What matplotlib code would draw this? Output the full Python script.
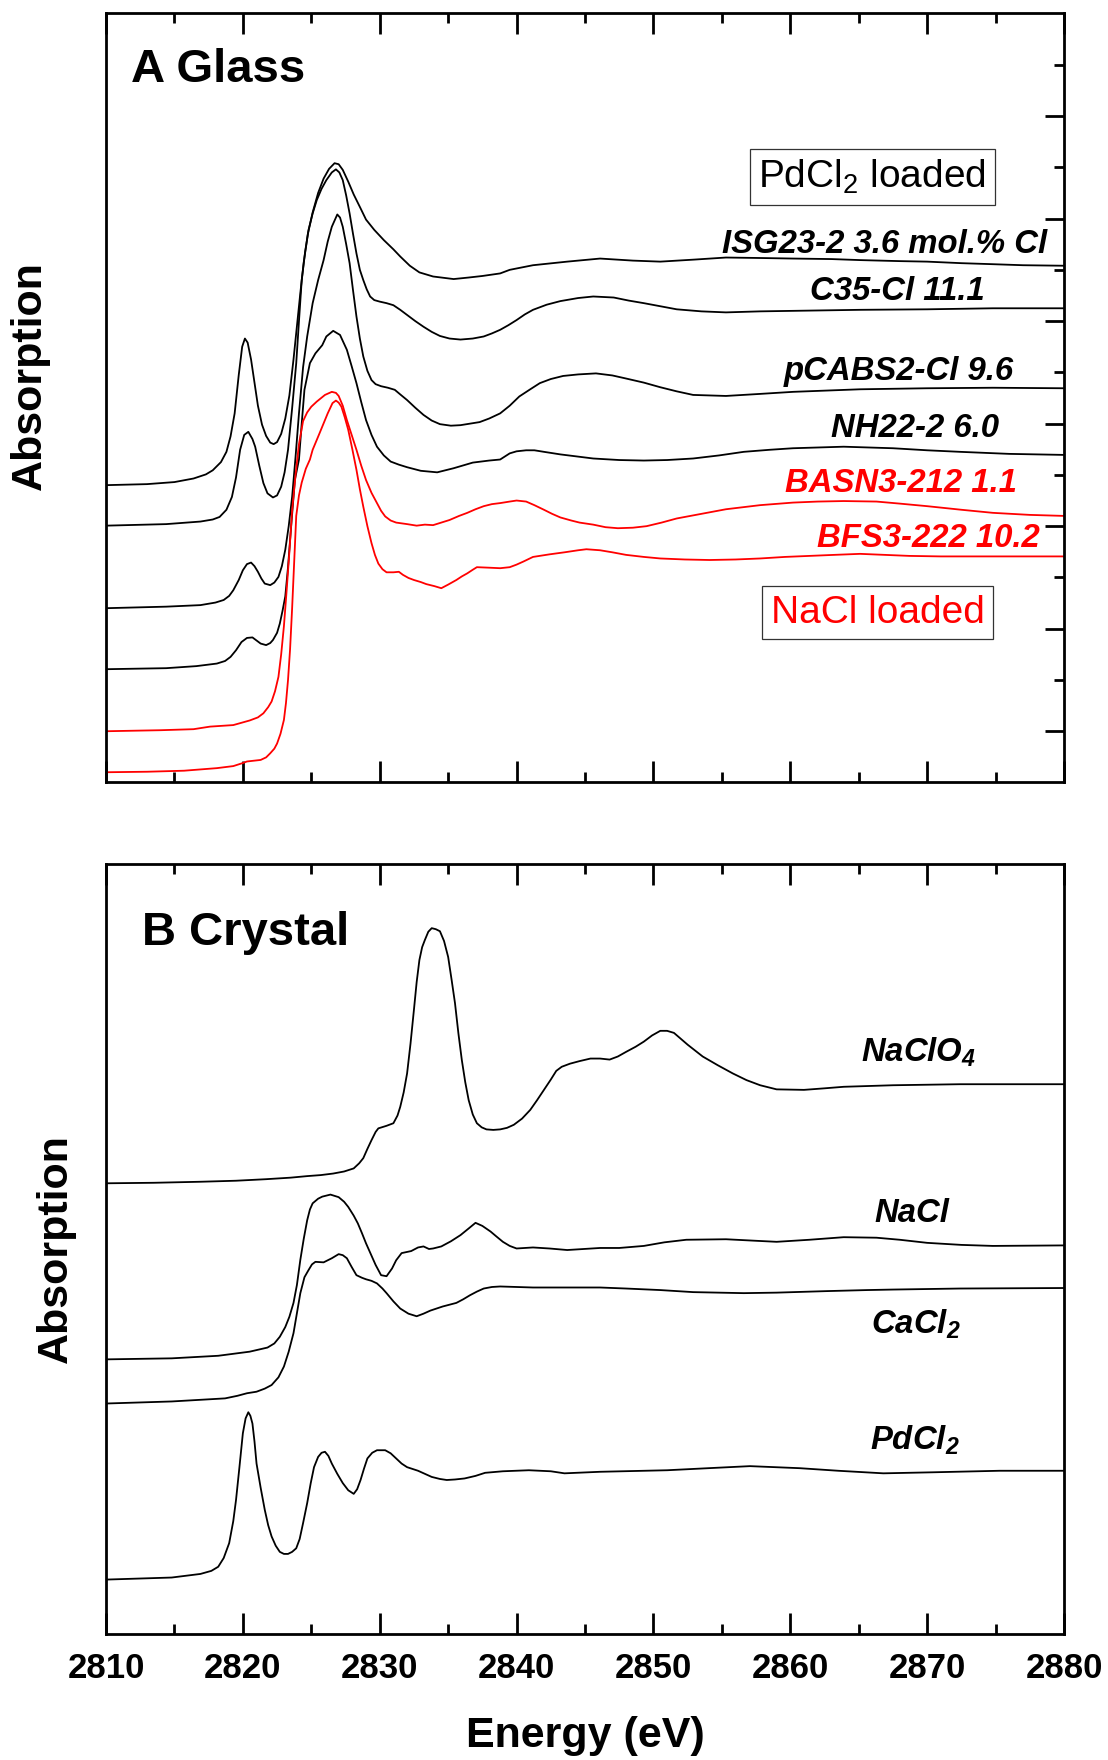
"""Stacked Cl K-edge XANES spectra: glasses (A) and crystalline references (B)."""

import matplotlib
matplotlib.use("Agg")
import matplotlib.pyplot as plt
from matplotlib.ticker import FixedLocator, MultipleLocator

plt.rcParams["font.family"] = "Liberation Sans"
plt.rcParams["mathtext.fontset"] = "custom"
plt.rcParams["mathtext.rm"] = "Liberation Sans"
plt.rcParams["mathtext.it"] = "Liberation Sans:italic"
plt.rcParams["mathtext.bf"] = "Liberation Sans:italic:bold"  # used for bold-italic subscripts

# ---- panel A: glasses (energy in eV, absorption stacked with offsets) ----
isg_e = [2810, 2813, 2815, 2816.4, 2817.3, 2817.8, 2818.4, 2818.8, 2819.1, 2819.4, 2819.7, 2819.95,
         2820.15, 2820.35, 2820.6, 2820.85, 2821.1, 2821.4, 2821.7, 2822.0, 2822.25, 2822.5, 2822.8,
         2823.1, 2823.4, 2823.7, 2823.95, 2824.2, 2824.45, 2824.75, 2825.1, 2825.5, 2825.9, 2826.3,
         2826.7, 2827.0, 2827.3, 2827.7, 2828.1, 2828.6, 2829.0, 2829.6, 2830.3, 2831.0, 2831.5,
         2832.2, 2832.9, 2833.9, 2835.4, 2836.5, 2837.5, 2838.8, 2839.5, 2841.2, 2843.7, 2846.1,
         2848.5, 2850.5, 2853, 2855.3, 2858, 2860.2, 2863, 2865.1, 2868, 2870.0, 2872.5, 2874.8,
         2877, 2880]
isg_a = [5.80, 5.82, 5.86, 5.93, 6.01, 6.09, 6.25, 6.45, 6.75, 7.20, 7.95, 8.50,
         8.66, 8.58, 8.25, 7.80, 7.35, 6.98, 6.76, 6.63, 6.60, 6.64, 6.80,
         7.10, 7.55, 8.25, 8.90, 9.55, 10.15, 10.70, 11.12, 11.50, 11.78, 11.97,
         12.08, 12.06, 11.95, 11.72, 11.47, 11.20, 10.98, 10.78, 10.58, 10.40, 10.26,
         10.08, 9.95, 9.87, 9.82, 9.85, 9.88, 9.93, 10.00, 10.09, 10.16, 10.22,
         10.18, 10.16, 10.20, 10.24, 10.23, 10.22, 10.21, 10.19, 10.17, 10.16, 10.13, 10.11,
         10.09, 10.08]

c35_e = [2810, 2814.4, 2816.9, 2817.8, 2818.3, 2818.8, 2819.2, 2819.5, 2819.8, 2820.1, 2820.4,
         2820.7, 2820.9, 2821.2, 2821.5, 2821.8, 2822.2, 2822.5, 2822.8, 2823.05, 2823.3, 2823.6,
         2823.9, 2824.1, 2824.3, 2824.55, 2824.8, 2825.1, 2825.4, 2825.75, 2826.1, 2826.5, 2826.8,
         2827.05, 2827.3, 2827.55, 2827.8, 2828.05, 2828.3, 2828.55, 2828.8, 2829.05, 2829.3,
         2829.6, 2830.0, 2830.5, 2831.0, 2831.5, 2832.0, 2832.6, 2833.2, 2833.8, 2834.4, 2835.1,
         2835.9, 2836.8, 2837.6, 2838.2, 2838.8, 2839.4, 2840.0, 2840.6, 2841.2, 2842.2, 2843.2,
         2844.5, 2845.6, 2847.1, 2848.2, 2849.3, 2850.5, 2851.7, 2853.5, 2855.3, 2857.8, 2860.2,
         2865.1, 2870.0, 2874.8, 2880]
c35_a = [5.01, 5.04, 5.09, 5.13, 5.18, 5.32, 5.57, 5.95, 6.49, 6.78, 6.84,
         6.70, 6.55, 6.18, 5.84, 5.64, 5.56, 5.60, 5.77, 6.05, 6.49, 7.30,
         8.18, 9.00, 9.80, 10.35, 10.78, 11.10, 11.36, 11.58, 11.75, 11.90, 11.96,
         11.90, 11.75, 11.45, 11.10, 10.70, 10.32, 10.00, 9.80, 9.62, 9.48,
         9.41, 9.38, 9.35, 9.31, 9.22, 9.12, 9.00, 8.89, 8.79, 8.71, 8.66,
         8.64, 8.66, 8.70, 8.76, 8.83, 8.92, 9.02, 9.13, 9.22, 9.32, 9.39,
         9.45, 9.48, 9.46, 9.40, 9.35, 9.29, 9.23, 9.19, 9.17, 9.19, 9.20,
         9.22, 9.23, 9.25, 9.25]

pcabs_e = [2810, 2814.4, 2816.9, 2818.0, 2818.6, 2819.0, 2819.3, 2819.7, 2820.0, 2820.3, 2820.6,
           2820.85, 2821.1, 2821.35, 2821.6, 2822.0, 2822.3, 2822.6, 2822.85, 2823.1, 2823.35,
           2823.6, 2823.85, 2824.1, 2824.4, 2824.7, 2825.1, 2825.5, 2825.9, 2826.2, 2826.5, 2826.9,
           2827.1, 2827.3, 2827.55, 2827.8, 2828.05, 2828.3, 2828.55, 2828.8, 2829.1, 2829.4,
           2829.7, 2830.1, 2830.6, 2831.1, 2831.5, 2832.0, 2832.6, 2833.2, 2833.8, 2834.4, 2835.2,
           2835.9, 2836.6, 2837.3, 2838.0, 2838.8, 2839.5, 2840.2, 2841.0, 2841.7, 2842.5, 2843.4,
           2844.5, 2845.8, 2847.0, 2848.0, 2849.3, 2850.5, 2851.7, 2852.9, 2855.3, 2857.8, 2860.2,
           2865.1, 2870.0, 2874.8, 2880]
pcabs_a = [3.40, 3.43, 3.46, 3.51, 3.56, 3.64, 3.75, 3.95, 4.14, 4.26, 4.29,
           4.22, 4.11, 3.98, 3.88, 3.85, 3.90, 4.01, 4.22, 4.54, 5.00,
           5.57, 6.35, 7.20, 8.10, 8.70, 9.35, 9.80, 10.19, 10.55, 10.84, 11.08,
           11.02, 10.84, 10.50, 10.13, 9.60, 9.09, 8.66, 8.31, 8.03, 7.85,
           7.77, 7.73, 7.70, 7.66, 7.57, 7.46, 7.31, 7.17, 7.06, 6.99, 6.96,
           6.97, 7.00, 7.03, 7.10, 7.20, 7.35, 7.53, 7.67, 7.79, 7.87, 7.93,
           7.96, 7.98, 7.94, 7.88, 7.80, 7.71, 7.63, 7.56, 7.54, 7.58, 7.62,
           7.67, 7.69, 7.70, 7.69]

nh22_e = [2810, 2814.4, 2816.6, 2818.1, 2818.7, 2819.1, 2819.5, 2819.9, 2820.3, 2820.7, 2821.0,
          2821.3, 2821.7, 2822.0, 2822.2, 2822.5, 2822.7, 2822.9, 2823.1, 2823.3, 2823.5, 2823.8,
          2824.1, 2824.3, 2824.5, 2824.9, 2825.3, 2825.8, 2826.1, 2826.6, 2827.1, 2827.6, 2827.95,
          2828.3, 2828.65, 2829.0, 2829.4, 2829.8, 2830.3, 2830.8, 2831.4, 2832.0, 2833.0, 2834.2,
          2835.4, 2836.8, 2838.0, 2838.8, 2839.5, 2840.0, 2840.7, 2841.3, 2842.0, 2843.2, 2845.6,
          2847.5, 2849.3, 2851.0, 2852.9, 2854.8, 2856.6, 2858.5, 2860.2, 2863.9, 2867.5, 2870.0,
          2872.4, 2876.0, 2880]
nh22_a = [2.21, 2.23, 2.27, 2.32, 2.37, 2.45, 2.58, 2.74, 2.82, 2.83, 2.77,
          2.71, 2.68, 2.72, 2.78, 2.92, 3.10, 3.35, 3.63, 4.20, 4.90, 5.90,
          6.30, 7.00, 7.66, 8.18, 8.37, 8.53, 8.70, 8.81, 8.73, 8.44, 8.12,
          7.79, 7.42, 7.07, 6.78, 6.55, 6.38, 6.26, 6.20, 6.15, 6.08, 6.05,
          6.13, 6.24, 6.28, 6.30, 6.42, 6.46, 6.48, 6.48, 6.45, 6.40, 6.32,
          6.29, 6.28, 6.29, 6.32, 6.38, 6.45, 6.49, 6.52, 6.55, 6.52, 6.48,
          6.45, 6.41, 6.39]

basn_e = [2810, 2814, 2816.4, 2817.6, 2819.3, 2820.5, 2821.1, 2821.5, 2821.85, 2822.1, 2822.35,
          2822.6, 2822.8, 2823.0, 2823.2, 2823.4, 2823.6, 2823.85, 2824.1, 2824.4, 2824.7, 2825.0,
          2825.4, 2826.0, 2826.5, 2826.8, 2827.0, 2827.3, 2827.6, 2827.95, 2828.3, 2828.65, 2829.0,
          2829.4, 2829.8, 2830.1, 2830.4, 2830.8, 2831.2, 2832.0, 2832.7, 2833.3, 2833.9, 2834.5,
          2835.1, 2835.8, 2836.4, 2837.0, 2837.6, 2838.2, 2838.8, 2839.5, 2840.0, 2840.7, 2841.3,
          2842.0, 2842.6, 2843.2, 2844.0, 2844.6, 2845.6, 2846.5, 2847.4, 2848.5, 2849.5, 2850.6,
          2851.7, 2853.5, 2855.3, 2857.8, 2860.2, 2862.0, 2863.9, 2866.3, 2868.0, 2870.0, 2872.5,
          2874.8, 2877.5, 2880]
basn_a = [1.00, 1.02, 1.04, 1.09, 1.12, 1.21, 1.27, 1.35, 1.47, 1.58, 1.78,
          2.06, 2.50, 3.05, 3.75, 4.50, 5.30, 6.00, 6.60, 7.05, 7.22, 7.33,
          7.43, 7.56, 7.62, 7.60, 7.54, 7.35, 7.07, 6.78, 6.49, 6.18, 5.90,
          5.65, 5.45, 5.30, 5.19, 5.11, 5.07, 5.04, 5.01, 5.03, 5.02, 5.07,
          5.12, 5.20, 5.26, 5.33, 5.39, 5.43, 5.45, 5.48, 5.50, 5.48, 5.41,
          5.32, 5.24, 5.17, 5.11, 5.07, 5.03, 4.98, 4.96, 4.97, 5.00, 5.07,
          5.15, 5.24, 5.33, 5.41, 5.46, 5.48, 5.49, 5.48, 5.44, 5.39, 5.32,
          5.26, 5.22, 5.20]

bfs_e = [2810, 2813, 2815.7, 2818.1, 2819.3, 2820.0, 2820.3, 2821.3, 2821.7, 2822.0, 2822.3,
         2822.5, 2822.75, 2823.0, 2823.15, 2823.3, 2823.45, 2823.6, 2823.75, 2823.9, 2824.1,
         2824.3, 2824.6, 2824.9, 2825.1, 2825.6, 2826.2, 2826.55, 2826.8, 2827.0, 2827.2, 2827.45,
         2827.7, 2828.0, 2828.3, 2828.55, 2828.8, 2829.1, 2829.4, 2829.65, 2829.9, 2830.2, 2830.5,
         2831.0, 2831.4, 2831.7, 2832.1, 2832.5, 2833.0, 2833.4, 2834.0, 2834.5, 2835.0, 2835.6,
         2836.0, 2836.4, 2836.8, 2837.1, 2838.0, 2838.8, 2839.5, 2840.0, 2840.5, 2841.2, 2842.4,
         2843.5, 2844.5, 2845.1, 2846.1, 2847.0, 2848.0, 2849.3, 2850.5, 2852.3, 2854.1, 2856.0,
         2857.8, 2859.6, 2861.4, 2863.2, 2865.1, 2866.9, 2868.7, 2871.0, 2873.6, 2876.5, 2880]
bfs_a = [0.20, 0.21, 0.23, 0.28, 0.32, 0.38, 0.41, 0.44, 0.49, 0.57, 0.66,
         0.76, 0.95, 1.22, 1.55, 2.00, 2.60, 3.40, 4.30, 5.20, 5.60,
         5.85, 6.12, 6.30, 6.49, 6.81, 7.20, 7.40, 7.45, 7.41, 7.33, 7.12,
         6.88, 6.50, 6.10, 5.72, 5.38, 5.00, 4.67, 4.44, 4.27, 4.16, 4.10,
         4.10, 4.11, 4.05, 3.99, 3.95, 3.91, 3.87, 3.83, 3.79, 3.86, 3.95,
         4.02, 4.08, 4.15, 4.20, 4.19, 4.18, 4.20, 4.25, 4.31, 4.40, 4.45,
         4.49, 4.53, 4.55, 4.53, 4.49, 4.44, 4.40, 4.37, 4.35, 4.34, 4.35,
         4.37, 4.40, 4.42, 4.44, 4.46, 4.44, 4.42, 4.41, 4.41, 4.41, 4.41]

# ---- panel B: crystalline references ----
naclo4_e = [2810, 2813.5, 2816.9, 2819.5, 2821.7, 2823.5, 2824.7, 2825.7, 2826.6, 2827.4, 2828.1,
            2828.5, 2828.8, 2829.1, 2829.4, 2829.7, 2829.9, 2830.5, 2831.0, 2831.3, 2831.5, 2831.75,
            2832.0, 2832.25, 2832.5, 2832.7, 2832.9, 2833.1, 2833.3, 2833.55, 2833.8, 2834.1, 2834.4,
            2834.7, 2835.0, 2835.25, 2835.5, 2835.75, 2836.0, 2836.25, 2836.5, 2836.8, 2837.1,
            2837.45, 2837.8, 2838.3, 2838.8, 2839.3, 2839.8, 2840.4, 2841.0, 2841.5, 2842.0, 2842.5,
            2842.9, 2843.3, 2843.9, 2844.6, 2845.4, 2846.1, 2846.8, 2847.4, 2848.0, 2848.7, 2849.3,
            2849.9, 2850.5, 2851.0, 2851.5, 2852.5, 2853.6, 2854.7, 2855.8, 2856.8, 2857.8, 2859.0,
            2861.0, 2862.5, 2863.9, 2867.5, 2872.4, 2876.0, 2880]
naclo4_a = [8.78, 8.79, 8.81, 8.83, 8.86, 8.89, 8.92, 8.94, 8.97, 9.01, 9.07,
            9.17, 9.27, 9.45, 9.62, 9.78, 9.85, 9.90, 9.95, 10.10, 10.27, 10.55,
            10.92, 11.50, 12.16, 12.70, 13.13, 13.38, 13.52, 13.68, 13.75, 13.73, 13.69,
            13.50, 13.19, 12.75, 12.29, 11.70, 11.18, 10.75, 10.40, 10.12, 9.95,
            9.87, 9.83, 9.82, 9.83, 9.86, 9.92, 10.04, 10.21, 10.40, 10.60, 10.80,
            10.97, 11.05, 11.11, 11.16, 11.21, 11.21, 11.19, 11.25, 11.34, 11.44, 11.54,
            11.66, 11.75, 11.75, 11.71, 11.48, 11.25, 11.08, 10.92, 10.79, 10.69, 10.61,
            10.60, 10.63, 10.66, 10.69, 10.71, 10.71, 10.71]

nacl_e = [2810, 2814.8, 2818.2, 2820.5, 2821.8, 2822.3, 2822.7, 2823.1, 2823.4, 2823.7, 2823.95,
          2824.2, 2824.45, 2824.7, 2824.9, 2825.1, 2825.5, 2825.8, 2826.4, 2827.0, 2827.4, 2827.7,
          2828.1, 2828.4, 2828.7, 2829.0, 2829.35, 2829.7, 2830.1, 2830.5, 2830.9, 2831.2, 2831.6,
          2832.3, 2832.8, 2833.2, 2833.6, 2833.9, 2834.5, 2835.2, 2835.9, 2836.5, 2837.0, 2837.5,
          2838.1, 2838.5, 2839.0, 2839.5, 2840.0, 2841.2, 2842.4, 2843.7, 2846.1, 2847.5, 2849.3,
          2850.8, 2852.4, 2855.3, 2857.5, 2859.0, 2861.4, 2863.9, 2866.3, 2868.0, 2870.0, 2872.5,
          2874.8, 2880]
nacl_a = [5.35, 5.37, 5.42, 5.50, 5.58, 5.66, 5.79, 5.98, 6.18, 6.45, 6.80,
          7.29, 7.70, 8.06, 8.27, 8.39, 8.48, 8.52, 8.56, 8.51, 8.42, 8.32,
          8.15, 8.00, 7.81, 7.61, 7.40, 7.19, 6.99, 6.97, 7.12, 7.28, 7.42,
          7.46, 7.53, 7.55, 7.50, 7.51, 7.55, 7.65, 7.77, 7.90, 8.01, 7.95,
          7.84, 7.75, 7.64, 7.56, 7.51, 7.53, 7.51, 7.48, 7.52, 7.52, 7.56,
          7.63, 7.68, 7.69, 7.66, 7.64, 7.68, 7.73, 7.72, 7.68, 7.62, 7.58,
          7.56, 7.57]

cacl2_e = [2810, 2814.8, 2818.7, 2819.6, 2820.3, 2821.0, 2821.6, 2822.1, 2822.6, 2823.0, 2823.35,
           2823.7, 2823.95, 2824.2, 2824.5, 2824.8, 2825.05, 2825.3, 2825.9, 2826.5, 2827.0, 2827.3,
           2827.6, 2827.95, 2828.3, 2828.7, 2829.0, 2829.4, 2829.8, 2830.2, 2830.5, 2831.0, 2831.5,
           2832.1, 2832.7, 2833.2, 2833.7, 2834.6, 2835.6, 2836.1, 2836.6, 2837.1, 2837.6, 2838.2,
           2838.8, 2841.2, 2843.7, 2846.1, 2848.0, 2850.5, 2852.9, 2856.6, 2859.0, 2862.7, 2865.6,
           2867.5, 2872.4, 2880]
cacl2_a = [4.49, 4.53, 4.59, 4.64, 4.69, 4.72, 4.78, 4.85, 5.00, 5.21, 5.50,
           5.86, 6.25, 6.64, 6.95, 7.09, 7.20, 7.25, 7.24, 7.32, 7.40, 7.38,
           7.32, 7.15, 6.99, 6.94, 6.91, 6.88, 6.83, 6.73, 6.64, 6.48, 6.34,
           6.24, 6.19, 6.24, 6.30, 6.38, 6.45, 6.52, 6.60, 6.67, 6.73, 6.76,
           6.77, 6.75, 6.75, 6.75, 6.73, 6.70, 6.66, 6.64, 6.65, 6.68, 6.70,
           6.71, 6.73, 6.74]

pdcl2_e = [2810, 2814.8, 2816.9, 2817.7, 2818.2, 2818.6, 2819.0, 2819.3, 2819.5, 2819.75, 2820.0,
           2820.2, 2820.4, 2820.55, 2820.7, 2820.85, 2821.0, 2821.3, 2821.6, 2821.85, 2822.1, 2822.4,
           2822.7, 2823.0, 2823.3, 2823.6, 2823.9, 2824.15, 2824.4, 2824.7, 2824.96, 2825.2, 2825.5,
           2825.75, 2826.0, 2826.25, 2826.5, 2826.9, 2827.3, 2827.7, 2828.1, 2828.35, 2828.6,
           2828.85, 2829.1, 2829.45, 2829.8, 2830.4, 2830.8, 2831.2, 2831.6, 2832.0, 2832.8, 2833.3,
           2833.8, 2834.4, 2834.9, 2835.5, 2836.2, 2837.0, 2837.7, 2839.0, 2840.9, 2842.5, 2843.5,
           2846.1, 2851.0, 2854.0, 2857.05, 2860.7, 2863.5, 2866.8, 2870.4, 2875.3, 2880]
pdcl2_a = [1.06, 1.10, 1.17, 1.23, 1.31, 1.48, 1.77, 2.20, 2.61, 3.25, 3.91,
           4.20, 4.32, 4.25, 4.10, 3.75, 3.32, 2.85, 2.42, 2.12, 1.90, 1.72,
           1.60, 1.56, 1.56, 1.60, 1.67, 1.85, 2.16, 2.55, 2.94, 3.25, 3.45,
           3.53, 3.55, 3.47, 3.32, 3.12, 2.94, 2.80, 2.73, 2.82, 3.00,
           3.22, 3.42, 3.53, 3.58, 3.58, 3.52, 3.42, 3.32, 3.25, 3.18, 3.12,
           3.06, 3.02, 3.00, 3.01, 3.03, 3.08, 3.14, 3.17, 3.19, 3.17, 3.13,
           3.16, 3.19, 3.23, 3.27, 3.23, 3.18, 3.13, 3.15, 3.18, 3.18]

BLACK = "black"
RED = "#ff0000"
LABEL_FONT = dict(fontsize=23.7, fontweight="bold", fontstyle="italic", ha="center", va="baseline")


def style_axes(ax, right_ticks):
    ax.set_xlim(2810, 2880)
    ax.set_ylim(0, 15)
    ax.xaxis.set_major_locator(MultipleLocator(10))
    ax.xaxis.set_minor_locator(MultipleLocator(5))
    ax.tick_params(axis="x", which="both", direction="in", top=True, bottom=True, width=2)
    ax.tick_params(axis="x", which="major", length=15)
    ax.tick_params(axis="x", which="minor", length=7)
    if right_ticks:
        ax.yaxis.set_major_locator(FixedLocator(list(range(1, 15, 2))))
        ax.yaxis.set_minor_locator(FixedLocator(list(range(2, 15, 2))))
        ax.tick_params(axis="y", which="both", direction="in", left=False, right=True,
                       labelleft=False, labelright=False, width=2)
        ax.tick_params(axis="y", which="major", length=14)
        ax.tick_params(axis="y", which="minor", length=7)
    else:
        ax.set_yticks([])
    for spine in ax.spines.values():
        spine.set_linewidth(2)


fig = plt.figure(figsize=(11.08, 17.60), dpi=100)
ax_a = fig.add_axes([106 / 1108, 1 - 782.5 / 1760, 958 / 1108, 769 / 1760])
ax_b = fig.add_axes([106 / 1108, 1 - 1634 / 1760, 958 / 1108, 770 / 1760])

# panel A
for e, a, c in [(isg_e, isg_a, BLACK), (c35_e, c35_a, BLACK), (pcabs_e, pcabs_a, BLACK),
                (nh22_e, nh22_a, BLACK), (basn_e, basn_a, RED), (bfs_e, bfs_a, RED)]:
    ax_a.plot(e, a, color=c, lw=1.3, solid_joinstyle="round")
style_axes(ax_a, right_ticks=True)
ax_a.tick_params(axis="x", labelbottom=False)

ax_a.text(2811.8, 13.66, "A Glass", fontsize=34, fontweight="bold", ha="left", va="baseline")
ax_a.text(2866.9, 10.33, "ISG23-2 3.6 mol.% Cl", color=BLACK, **LABEL_FONT)
ax_a.text(2867.8, 9.41, "C35-Cl 11.1", color=BLACK, **LABEL_FONT)
ax_a.text(2867.9, 7.86, "pCABS2-Cl 9.6", color=BLACK, **LABEL_FONT)
ax_a.text(2869.1, 6.73, "NH22-2 6.0", color=BLACK, **LABEL_FONT)
ax_a.text(2868.1, 5.66, "BASN3-212 1.1", color=RED, **LABEL_FONT)
ax_a.text(2870.1, 4.59, "BFS3-222 10.2", color=RED, **LABEL_FONT)
box = dict(boxstyle="square,pad=0.22", fc="white", ec="#333333", lw=0.9)
ax_a.text(2866.0, 11.81, "PdCl$_2$ loaded", fontsize=28, ha="center", va="center", bbox=box)
ax_a.text(2866.4, 3.31, "NaCl loaded", fontsize=28, color=RED, ha="center", va="center", bbox=box)

# panel B
for e, a in [(naclo4_e, naclo4_a), (nacl_e, nacl_a), (cacl2_e, cacl2_a), (pdcl2_e, pdcl2_a)]:
    ax_b.plot(e, a, color=BLACK, lw=1.3, solid_joinstyle="round")
style_axes(ax_b, right_ticks=False)
ax_b.tick_params(axis="x", labelsize=25, pad=13)
for lbl in ax_b.get_xticklabels():
    lbl.set_fontweight("bold")

ax_b.text(2812.6, 13.42, "B Crystal", fontsize=34, fontweight="bold", ha="left", va="baseline")
ax_b.text(2869.4, 11.15, r"NaClO$_\mathbf{4}$", color=BLACK, **LABEL_FONT)
ax_b.text(2868.9, 8.03, "NaCl", color=BLACK, **LABEL_FONT)
ax_b.text(2869.2, 5.86, r"CaCl$_\mathbf{2}$", color=BLACK, **LABEL_FONT)
ax_b.text(2869.1, 3.60, r"PdCl$_\mathbf{2}$", color=BLACK, **LABEL_FONT)

fig.text(30 / 1108, 1 - 376 / 1760, "Absorption", fontsize=31, fontweight="bold",
         rotation=90, ha="center", va="center")
fig.text(56 / 1108, 1 - 1249 / 1760, "Absorption", fontsize=31, fontweight="bold",
         rotation=90, ha="center", va="center")
fig.text(585 / 1108, 1 - 1736 / 1760, "Energy (eV)", fontsize=31, fontweight="bold",
         ha="center", va="center")

fig.savefig("out.png", dpi=100)
